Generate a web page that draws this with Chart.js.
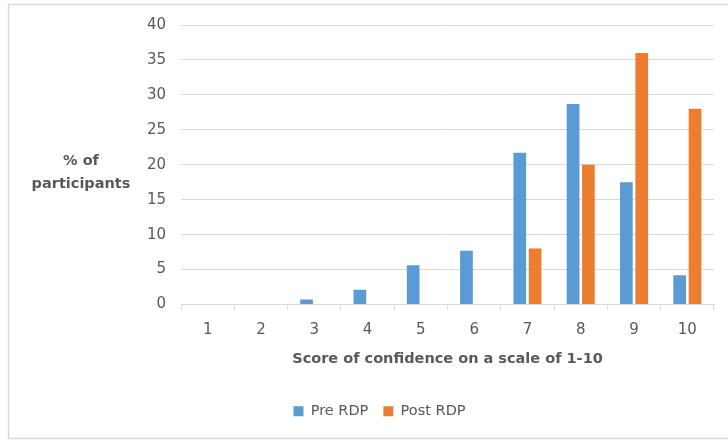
<!DOCTYPE html>
<html>
<head>
<meta charset="utf-8">
<script src="https://cdn.jsdelivr.net/npm/chart.js@4/dist/chart.umd.min.js"></script>
<style>
  html, body { margin: 0; padding: 0; background: #ffffff; }
  #wrap { position: relative; width: 728px; height: 441px; }
  canvas { display: block; }
</style>
</head>
<body>
<div id="wrap"><canvas id="chart" width="728" height="441"></canvas></div>
<script>
// Confidence scores (1-10) before and after the RDP, as % of participants
const scores = ['1', '2', '3', '4', '5', '6', '7', '8', '9', '10'];
const preRDP = [0, 0, 0.7, 2.1, 5.6, 7.7, 21.7, 28.7, 17.5, 4.2];
const postRDP = [0, 0, 0, 0, 0, 0, 8, 20, 36, 28];
const yMin = 0, yMax = 40, yStep = 5;
const yTitleLines = ['% of', 'participants'];
const xTitle = 'Score of confidence on a scale of 1-10';

const TEXT = '#595959';
const GRID = '#D9D9D9';
const FONT = '"DejaVu Sans", "Open Sans", sans-serif';

// White background plus the thin grey frame (left, top and bottom edges; the right edge runs off the canvas)
const framePlugin = {
  id: 'frame',
  beforeDraw(chart) {
    const ctx = chart.ctx;
    ctx.save();
    ctx.fillStyle = '#ffffff';
    ctx.fillRect(0, 0, chart.width, chart.height);
    ctx.strokeStyle = GRID;
    ctx.lineWidth = 1.5;
    ctx.beginPath();
    ctx.moveTo(chart.width + 2, 4.5);
    ctx.lineTo(8.5, 4.5);
    ctx.lineTo(8.5, 438.5);
    ctx.lineTo(chart.width + 2, 438.5);
    ctx.stroke();
    ctx.restore();
  }
};

// Horizontal (unrotated) y-axis title to the left of the tick labels
const yTitlePlugin = {
  id: 'yTitle',
  afterDraw(chart) {
    const ctx = chart.ctx;
    ctx.save();
    ctx.fillStyle = TEXT;
    ctx.font = 'bold 14.5px ' + FONT;
    ctx.textAlign = 'center';
    ctx.textBaseline = 'middle';
    const cx = 81;
    ctx.fillText(yTitleLines[0], cx, 161);
    ctx.fillText(yTitleLines[1], cx, 184);
    ctx.restore();
  }
};

new Chart(document.getElementById('chart'), {
  type: 'bar',
  data: {
    labels: scores,
    datasets: [
      { label: 'Pre RDP', data: preRDP, backgroundColor: '#5B9BD5',
        categoryPercentage: 0.576, barPercentage: 0.827 },
      { label: 'Post RDP', data: postRDP, backgroundColor: '#ED7D31',
        categoryPercentage: 0.576, barPercentage: 0.827 }
    ]
  },
  options: {
    responsive: false,
    animation: false,
    layout: { padding: { left: 45, right: 14, top: 25, bottom: 12.5 } },
    plugins: {
      tooltip: { enabled: false },
      legend: {
        position: 'bottom',
        labels: {
          boxWidth: 10, boxHeight: 10, padding: 15,
          color: TEXT, font: { family: FONT, size: 14.5 }
        }
      }
    },
    scales: {
      x: {
        grid: { drawOnChartArea: false, drawTicks: true, tickLength: 5, color: GRID, lineWidth: 1 },
        border: { display: true, color: GRID, width: 1 },
        ticks: { color: TEXT, padding: 11.5, font: { family: FONT, size: 15 } },
        title: {
          display: true, text: xTitle, color: TEXT,
          font: { family: FONT, size: 14.5, weight: 'bold' },
          padding: { top: 0, bottom: 20.8 }
        },
        afterFit(scale) { scale.height = 84.5; }
      },
      y: {
        min: yMin, max: yMax,
        ticks: { stepSize: yStep, padding: 15, color: TEXT, font: { family: FONT, size: 15 } },
        grid: { color: GRID, lineWidth: 1, drawTicks: false },
        border: { display: false },
        afterFit(scale) { scale.width = 136; }
      }
    }
  },
  plugins: [framePlugin, yTitlePlugin]
});
</script>
</body>
</html>
